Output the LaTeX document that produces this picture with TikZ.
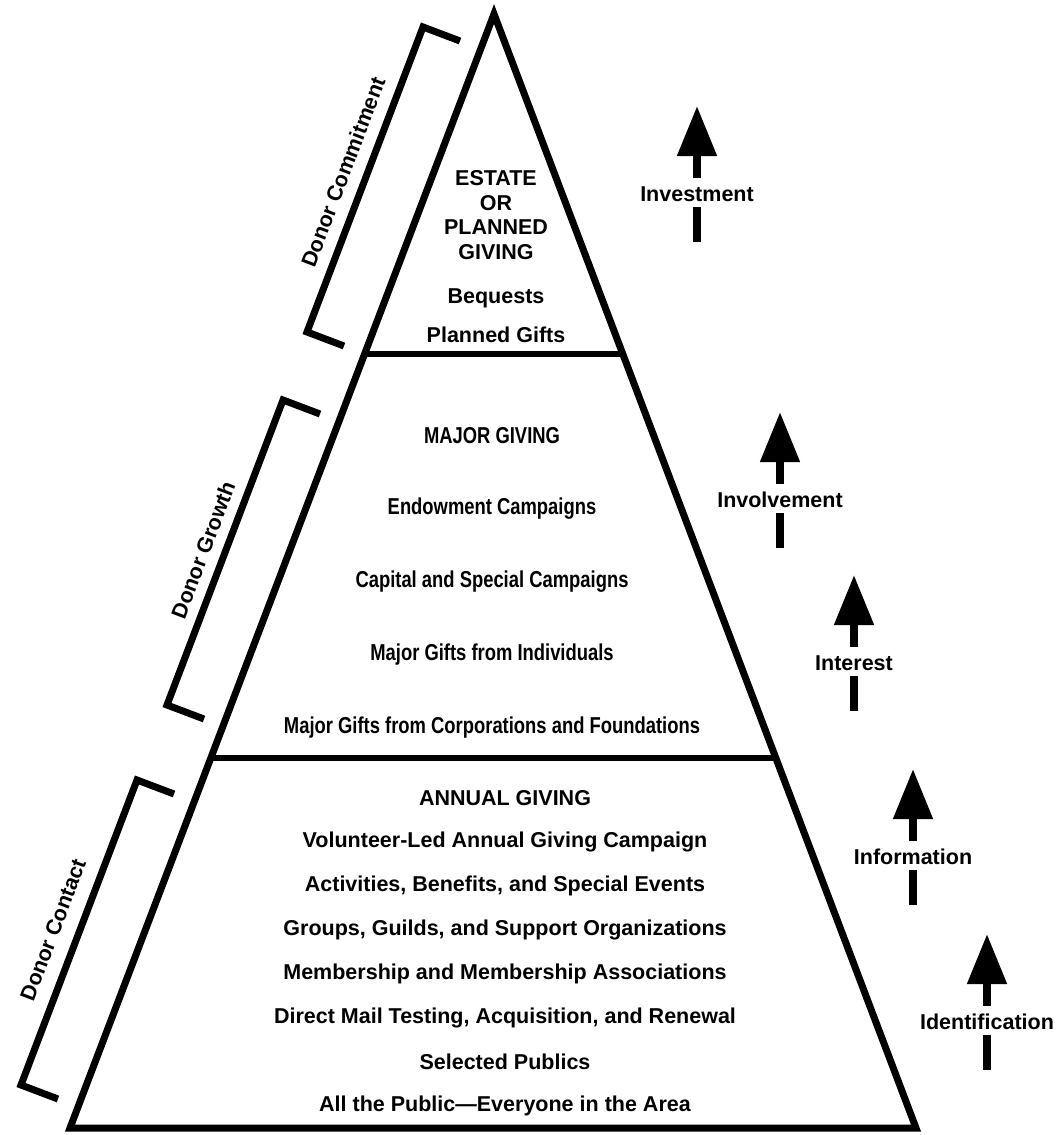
\documentclass[tikz,border=0pt]{standalone}
\usepackage{fontspec}
\setmainfont{Liberation Sans}
\newfontfamily\midfont{Liberation Sans}[FakeStretch=0.8]
\usetikzlibrary{arrows.meta,calc}

\begin{document}
\begin{tikzpicture}[x=1pt,y=-1pt,node distance=44pt,
      every node/.style={font=\bfseries\fontsize{21.5}{24}\selectfont,inner sep=0pt},
      pyramid/.style={line width=7pt,line join=miter},
      divider/.style={line width=6pt},
      phasebracket/.style={line width=7pt,line join=miter},
      shaft/.style={line width=8pt,-{Triangle[width=38pt,length=50pt]}},
      stem/.style={line width=8pt},
      midtext/.style={font=\midfont\bfseries\fontsize{23}{26}\selectfont}]
   \useasboundingbox (0,0) rectangle (1057,1135);

   % pyramid and its levels
   \coordinate (apex) at (494,14);
   \coordinate (bl)   at (70,1128);
   \coordinate (br)   at (916,1128);
   \draw[pyramid] (apex) -- (bl) -- (br) -- cycle;
   \coordinate (d1l) at ($(apex)!0.305!(bl)$);
   \coordinate (d1r) at ($(apex)!0.305!(br)$);
   \coordinate (d2l) at ($(apex)!0.668!(bl)$);
   \coordinate (d2r) at ($(apex)!0.668!(br)$);
   \draw[divider] (d1l) -- (d1r);
   \draw[divider] (d2l) -- (d2r);

   % top level
   \node (est)                                 at (496,178) {ESTATE};
   \node (or)  [below of=est,node distance=25pt] {OR};
   \node (pln) [below of=or, node distance=24pt] {PLANNED};
   \node (giv) [below of=pln,node distance=25pt] {GIVING};
   \node (beq) [below of=giv,node distance=46pt] {Bequests};
   \node (pgf) [below of=beq,node distance=37pt] {Planned Gifts};

   % middle level
   \node[midtext] (maj)                                   at (492,436) {MAJOR GIVING};
   \node[midtext] (endw) [below of=maj, node distance=73pt] {Endowment Campaigns};
   \node[midtext] (cap)  [below of=endw,node distance=73pt] {Capital and Special Campaigns};
   \node[midtext] (ind)  [below of=cap, node distance=73pt] {Major Gifts from Individuals};
   \node[midtext] (corp) [below of=ind, node distance=73pt] {Major Gifts from Corporations and Foundations};

   % bottom level
   \node (ann)                    at (505,798) {ANNUAL GIVING};
   \node (vol) [below of=ann] {Volunteer-Led Annual Giving Campaign};
   \node (act) [below of=vol] {Activities, Benefits, and Special Events};
   \node (grp) [below of=act] {Groups, Guilds, and Support Organizations};
   \node (mem) [below of=grp] {Membership and Membership Associations};
   \node (dm)  [below of=mem] {Direct Mail Testing, Acquisition, and Renewal};
   \node (sel) [below of=dm]  {Selected Publics};
   \node (all) [below of=sel] {All the Public---Everyone in the Area};

   % stages on the right
   \foreach \x/\y/\lbl [count=\i] in {697/194/Investment, 780/500/Involvement,
         854/663/Interest, 913/857/Information, 987/1022/Identification} {
      \node (stage\i) at (\x,\y) {\lbl};
      \coordinate (tip\i) at (\x,\y-88);
      \draw[shaft] ([yshift=16pt]stage\i.center) -- (tip\i);
      \draw[stem] ([yshift=-13pt]stage\i.center) -- ++(0,35);
   }

   % brackets on the left
   \foreach \x/\y/\lx/\ly/\lbl [count=\i] in {423/27/343/172/Donor Commitment,
         283/400/203/550/Donor Growth, 137/780/53/930/Donor Contact} {
      \coordinate (top\i) at (\x,\y);
      \coordinate (bot\i) at (\x-116,\y+305);
      \draw[phasebracket] ($(top\i)+(37,14)$) -- (top\i) -- (bot\i) -- ($(bot\i)+(37,14)$);
      \node[rotate=69.2] (phase\i) at (\lx,\ly) {\lbl};
   }
\end{tikzpicture}
\end{document}
